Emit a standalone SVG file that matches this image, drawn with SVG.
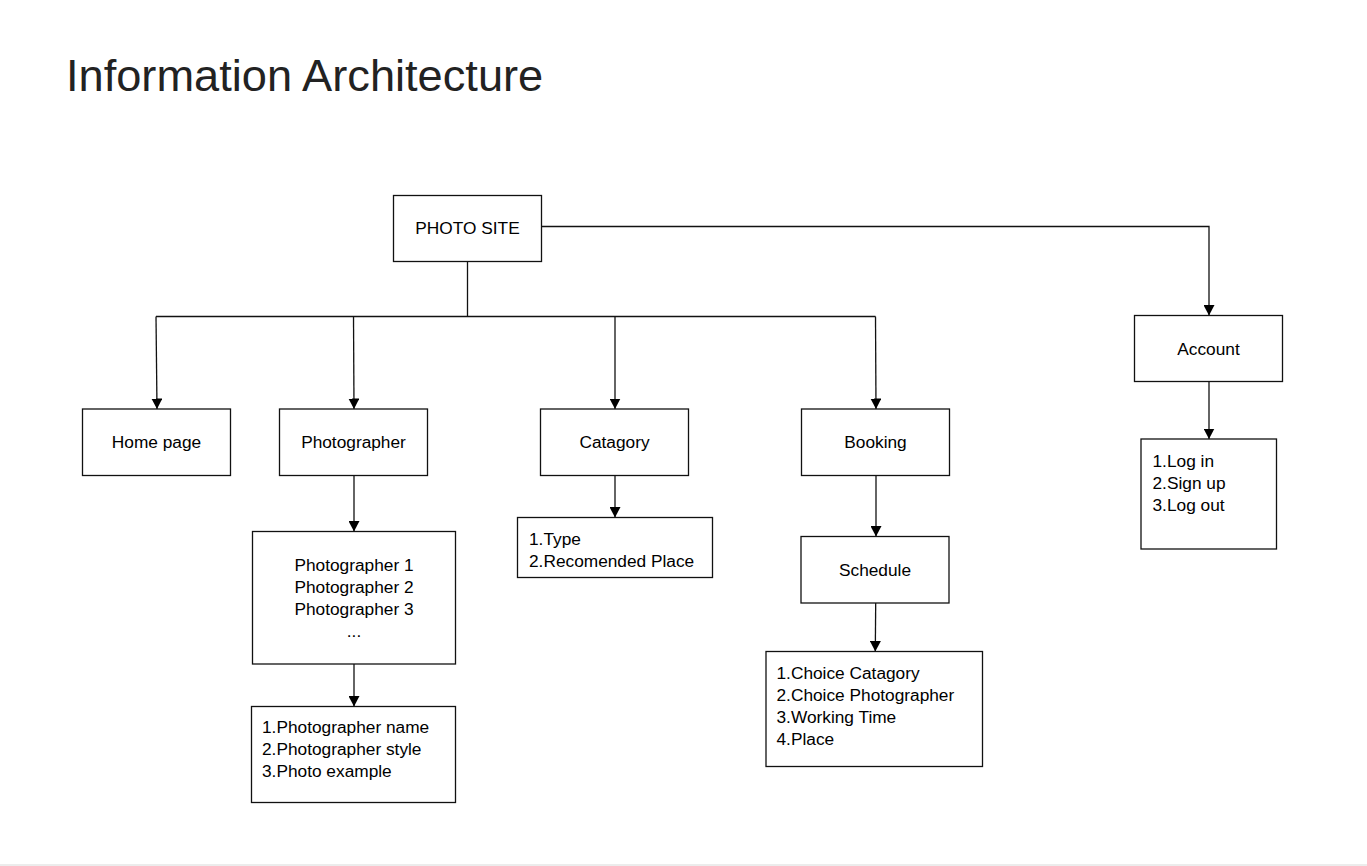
<svg xmlns="http://www.w3.org/2000/svg" width="1367" height="866" viewBox="0 0 1367 866">
<style>
  .box { fill: #ffffff; stroke: #111; stroke-width: 1.3; }
  .lbl { font-family: "Liberation Sans", Arial, sans-serif; font-size: 17.3px; fill: #000; }
  .mid { text-anchor: middle; }
  .title { font-family: "Liberation Sans", Arial, sans-serif; font-size: 45.2px; fill: #222; }
  .edge { fill: none; stroke: #111; stroke-width: 1.3; }
</style>
<defs>
  <marker id="arr" markerUnits="userSpaceOnUse" markerWidth="11" markerHeight="11" refX="10.5" refY="5.5" orient="auto">
    <path d="M0,0 L10.5,5.5 L0,11 z" fill="#000"/>
  </marker>
</defs>
<rect x="0" y="0" width="1367" height="866" fill="#ffffff"/>
<line x1="0" y1="865" x2="1367" y2="865" stroke="#e6e6e6" stroke-width="1.5"/>
<text class="title" x="66" y="91">Information Architecture</text>

<g id="connectors">
  <path class="edge" d="M467.5,261.5 V316.5"/>
  <path class="edge" d="M156,316.5 H875.5"/>
  <path class="edge" d="M156,316.5 L157,409" marker-end="url(#arr)"/>
  <path class="edge" d="M353.5,316.5 L354,409" marker-end="url(#arr)"/>
  <path class="edge" d="M615,316.5 L615,409" marker-end="url(#arr)"/>
  <path class="edge" d="M875.5,316.5 L876,409" marker-end="url(#arr)"/>
  <path class="edge" d="M541.5,226.5 H1209 V315.5" marker-end="url(#arr)"/>
  <path class="edge" d="M354,475.5 V531.5" marker-end="url(#arr)"/>
  <path class="edge" d="M354,664 V706.5" marker-end="url(#arr)"/>
  <path class="edge" d="M615,475.5 V517.5" marker-end="url(#arr)"/>
  <path class="edge" d="M876,475.5 V536.5" marker-end="url(#arr)"/>
  <path class="edge" d="M875.7,603 L875.3,651.5" marker-end="url(#arr)"/>
  <path class="edge" d="M1209,381.5 V439" marker-end="url(#arr)"/>
</g>

<g id="photo-site">
  <rect class="box" x="393.5" y="195.5" width="148" height="66"/>
  <text class="lbl mid" x="467.5" y="234.3">PHOTO SITE</text>
</g>
<g id="home-page">
  <rect class="box" x="82.5" y="409" width="148" height="66.5"/>
  <text class="lbl mid" x="156.5" y="448.3">Home page</text>
</g>
<g id="photographer">
  <rect class="box" x="279.5" y="409" width="148" height="66.5"/>
  <text class="lbl mid" x="353.5" y="448.3">Photographer</text>
</g>
<g id="catagory">
  <rect class="box" x="540.5" y="409" width="148" height="66.5"/>
  <text class="lbl mid" x="614.5" y="448.3">Catagory</text>
</g>
<g id="booking">
  <rect class="box" x="801.5" y="409" width="148" height="66.5"/>
  <text class="lbl mid" x="875.5" y="448.3">Booking</text>
</g>
<g id="account">
  <rect class="box" x="1134.5" y="315.5" width="148" height="66"/>
  <text class="lbl mid" x="1208.5" y="354.5">Account</text>
</g>
<g id="photographer-list">
  <rect class="box" x="252.5" y="531.5" width="203" height="132.5"/>
  <text class="lbl mid" x="354" y="571">Photographer 1</text>
  <text class="lbl mid" x="354" y="593">Photographer 2</text>
  <text class="lbl mid" x="354" y="615">Photographer 3</text>
  <text class="lbl mid" x="354" y="637">...</text>
</g>
<g id="photographer-details">
  <rect class="box" x="251.5" y="706.5" width="204" height="96"/>
  <text class="lbl" x="262" y="733">1.Photographer name</text>
  <text class="lbl" x="262" y="755">2.Photographer style</text>
  <text class="lbl" x="262" y="777">3.Photo example</text>
</g>
<g id="catagory-list">
  <rect class="box" x="517.5" y="517.5" width="195" height="60"/>
  <text class="lbl" x="529" y="545">1.Type</text>
  <text class="lbl" x="529" y="567">2.Recomended Place</text>
</g>
<g id="schedule">
  <rect class="box" x="801" y="536.5" width="148" height="66.5"/>
  <text class="lbl mid" x="875" y="575.8">Schedule</text>
</g>
<g id="schedule-list">
  <rect class="box" x="766" y="651.5" width="216.5" height="115"/>
  <text class="lbl" x="776.5" y="678.5">1.Choice Catagory</text>
  <text class="lbl" x="776.5" y="700.5">2.Choice Photographer</text>
  <text class="lbl" x="776.5" y="722.5">3.Working Time</text>
  <text class="lbl" x="776.5" y="744.5">4.Place</text>
</g>
<g id="account-list">
  <rect class="box" x="1141" y="439" width="135.5" height="110"/>
  <text class="lbl" x="1152.5" y="466.5">1.Log in</text>
  <text class="lbl" x="1152.5" y="488.5">2.Sign up</text>
  <text class="lbl" x="1152.5" y="510.5">3.Log out</text>
</g>
</svg>
